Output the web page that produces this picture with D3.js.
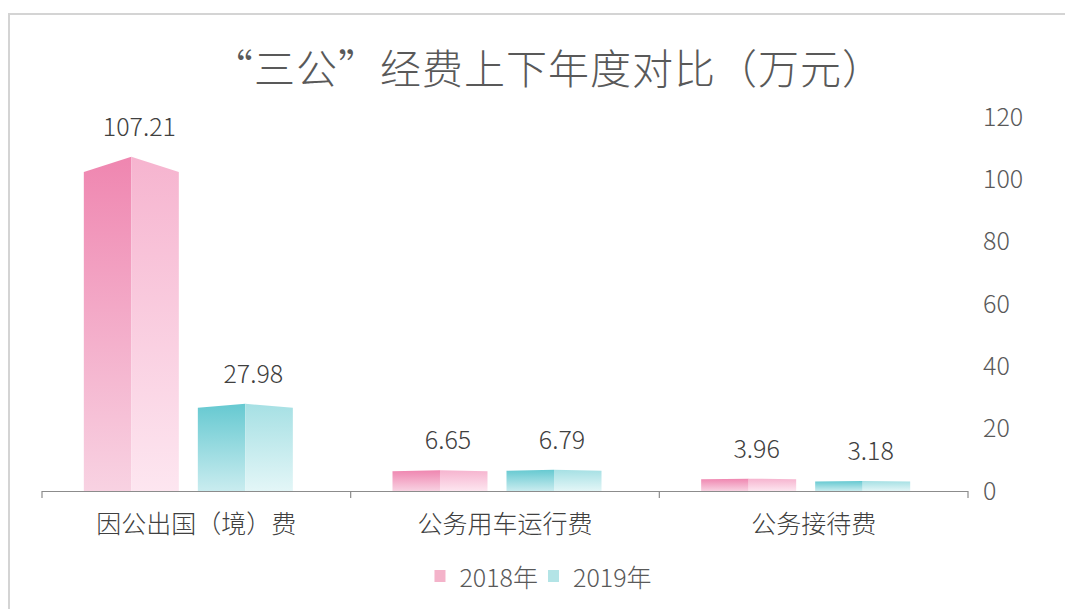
<!DOCTYPE html>
<html lang="zh-CN">
<head>
<meta charset="utf-8">
<script src="https://cdn.jsdelivr.net/npm/d3@7"></script>
<style>
  body { margin: 0; background: #fff; }
  svg { display: block; font-family: "Noto Sans CJK SC", "Noto Sans", sans-serif; font-weight: 300; }
</style>
</head>
<body>
<div id="chart"></div>
<script>
const categories = ["因公出国（境）费", "公务用车运行费", "公务接待费"]
const seriesNames = ["2018年", "2019年"]
const values2018 = [107.21, 6.65, 3.96]
const values2019 = [27.98, 6.79, 3.18]
const yTicks = [0, 20, 40, 60, 80, 100, 120]

const width = 1065, height = 609

const svg = d3.select("#chart").append("svg")
    .attr("width", width)
    .attr("height", height)

// outer frame of the card
svg.append("rect")
    .attr("x", 9).attr("y", 14)
    .attr("width", 1200).attr("height", 700)
    .attr("fill", "none")
    .attr("stroke", "#d4d4d4")
    .attr("stroke-width", 2)

const palette = {
    "2018年": { left: ["#ef86b0", "#f8d2e2"], right: ["#f6b4cf", "#fde6f0"], key: "#f4b3ca" },
    "2019年": { left: ["#66c9d1", "#c9ecef"], right: ["#a6e0e4", "#e3f6f7"], key: "#b3e4e6" }
}

const defs = svg.append("defs")
seriesNames.forEach((s, i) => {
    ["left", "right"].forEach(side => {
        const g = defs.append("linearGradient")
            .attr("id", `g${i}${side}`)
            .attr("x1", 0).attr("y1", 0).attr("x2", 0).attr("y2", 1)
        g.append("stop").attr("offset", "0%").attr("stop-color", palette[s][side][0])
        g.append("stop").attr("offset", "100%").attr("stop-color", palette[s][side][1])
    })
})

const x0 = d3.scaleBand().domain(categories).range([42, 968])
const x1 = d3.scaleBand().domain(seriesNames).range([0, x0.bandwidth()])
    .paddingInner(0.1667).paddingOuter(0.437)
const y = d3.scaleLinear().domain([0, 120]).range([491, 117])

const DEPTH_SHIFT = -8  // the 3d columns sit a little left of their slot

const rows = []
categories.forEach((c, i) => {
    rows.push({ cat: c, s: seriesNames[0], idx: 0, v: values2018[i] })
    rows.push({ cat: c, s: seriesNames[1], idx: 1, v: values2019[i] })
})

// title
svg.append("text")
    .attr("x", 548).attr("y", 66)
    .attr("text-anchor", "middle")
    .attr("dominant-baseline", "central")
    .attr("font-size", 41)
    .attr("letter-spacing", 1)
    .attr("fill", "#595959")
    .text("“三公”经费上下年度对比（万元）")

// y axis on the right, labels only
const yaxis = d3.axisRight(y).tickValues(yTicks).tickSize(0).tickPadding(0)
svg.append("g")
    .attr("transform", "translate(983,0)")
    .call(yaxis)
    .call(g => g.select(".domain").remove())
    .selectAll("text")
    .attr("font-size", 25)
    .attr("fill", "#595959")
    .attr("font-family", "Noto Sans CJK SC, sans-serif")
    .attr("font-weight", 300)

// columns
const bars = svg.selectAll(".bar")
    .data(rows)
    .enter().append("g")
    .attr("class", "bar")

bars.each(function(d) {
    const g = d3.select(this)
    const xl = x0(d.cat) + x1(d.s) + DEPTH_SHIFT
    const xr = xl + x1.bandwidth()
    const xm = (xl + xr) / 2
    const yb = y(0)
    const yp = y(d.v)
    const cap = (yb - yp) * 0.045
    g.append("path")
        .attr("d", `M${xl},${yb}L${xl},${yp + cap}L${xm},${yp}L${xm},${yb}Z`)
        .attr("fill", `url(#g${d.idx}left)`)
    g.append("path")
        .attr("d", `M${xm},${yb}L${xm},${yp}L${xr},${yp + cap}L${xr},${yb}Z`)
        .attr("fill", `url(#g${d.idx}right)`)
})

// value labels
svg.selectAll(".val")
    .data(rows)
    .enter().append("text")
    .attr("class", "val")
    .attr("x", d => x0(d.cat) + x1(d.s) + x1.bandwidth() / 2)
    .attr("y", d => y(d.v) - 32)
    .attr("text-anchor", "middle")
    .attr("dominant-baseline", "central")
    .attr("font-size", 25)
    .attr("fill", "#404040")
    .text(d => d.v.toFixed(2))

// x axis line with ticks at category boundaries
svg.append("line")
    .attr("x1", x0.range()[0]).attr("x2", x0.range()[1])
    .attr("y1", y(0) + 0.5).attr("y2", y(0) + 0.5)
    .attr("stroke", "#8c8c8c").attr("stroke-width", 1.2)

const bounds = categories.map(c => x0(c)).concat([x0.range()[1]])
svg.selectAll(".xtick")
    .data(bounds)
    .enter().append("line")
    .attr("class", "xtick")
    .attr("x1", d => d).attr("x2", d => d)
    .attr("y1", y(0)).attr("y2", y(0) + 7)
    .attr("stroke", "#8c8c8c").attr("stroke-width", 1.2)

svg.selectAll(".cat")
    .data(categories)
    .enter().append("text")
    .attr("class", "cat")
    .attr("x", d => x0(d) + x0.bandwidth() / 2)
    .attr("y", 522)
    .attr("text-anchor", "middle")
    .attr("dominant-baseline", "central")
    .attr("font-size", 25)
    .attr("fill", "#404040")
    .text(d => d)

// legend
const legend = svg.append("g")
let lx = 0
seriesNames.forEach(s => {
    const item = legend.append("g")
    item.append("rect")
        .attr("x", 0).attr("y", -6)
        .attr("width", 11).attr("height", 12)
        .attr("fill", palette[s].key)
    const t = item.append("text")
        .attr("x", 25).attr("y", 0)
        .attr("dominant-baseline", "central")
        .attr("font-size", 25)
        .attr("fill", "#595959")
        .text(s)
    item.attr("transform", `translate(${lx},0)`)
    lx += 25 + t.node().getComputedTextLength() + 10
})
const legendW = lx - 10
legend.attr("transform", `translate(${543 - legendW / 2},576)`)
</script>
</body>
</html>
